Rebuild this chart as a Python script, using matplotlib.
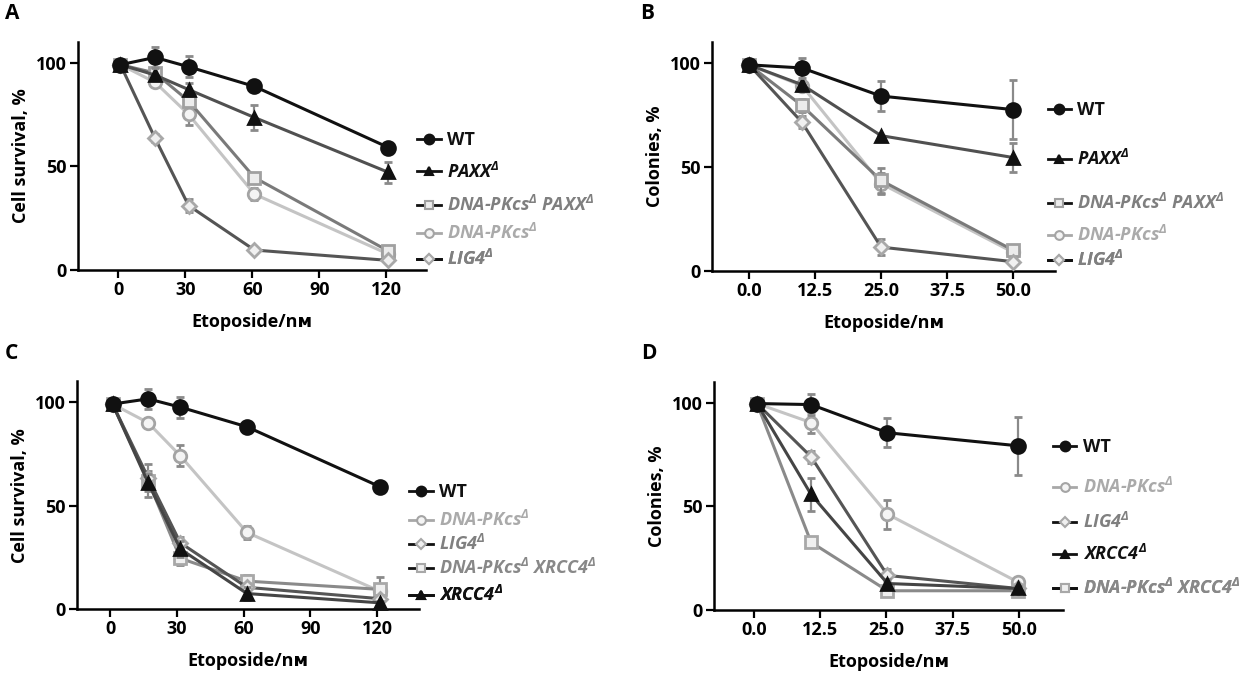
import matplotlib
matplotlib.use("Agg")
import matplotlib.pyplot as plt
from matplotlib.lines import Line2D

plt.rcParams['font.family'] = ['Open Sans', 'DejaVu Sans']
plt.rcParams['font.weight'] = 'bold'
plt.rcParams['mathtext.default'] = 'regular'

# ---- data ----
# panel A: cell survival, etoposide 0-120 nM
xA = [1, 16.5, 31.5, 61, 121]
A_wt = [99, 102.5, 98, 88.5, 59]
A_wt_err = [0, 5, 5, 2, 2]
A_paxx = [99, 94, 87, 73.5, 47]
A_paxx_err = [0, 0, 3, 6, 5]
A_dpp = [99, 95, 81.5, 44.5, 9]
A_dpp_err = [0, 3, 2, 2, 2]
A_dp = [99, 90.5, 75, 36.5, 7.5]
A_dp_err = [0, 2, 5, 3, 2]
A_lig4 = [99, 63.5, 31, 9.5, 4.5]
A_lig4_err = [0, 2, 3, 1, 1]

# panel B: colonies, etoposide 0-50 nM
xB = [0, 10, 25, 50]
B_wt = [99, 97.5, 84, 77.5]
B_wt_err = [0, 5, 7, 14]
B_paxx = [99, 89.5, 65, 54.5]
B_paxx_err = [0, 0, 0, 7]
B_dpp = [99, 79.5, 43.5, 10]
B_dpp_err = [0, 3, 6, 2]
B_dp = [99, 89, 42, 9]
B_dp_err = [0, 2, 5, 2]
B_lig4 = [99, 71.5, 11.5, 4.5]
B_lig4_err = [0, 3, 4, 1]

# panel C: cell survival
xC = [1, 17, 31.5, 61.5, 121.5]
C_wt = [99, 101.5, 97.5, 88, 59]
C_wt_err = [0, 5, 5, 2, 2]
C_dp = [99, 90, 74, 37, 8.5]
C_dp_err = [0, 2, 5, 3, 2]
C_lig4 = [99, 63.5, 32, 10.5, 5]
C_lig4_err = [0, 3, 3, 2, 1]
C_dpx = [99, 62, 24.5, 13.5, 9.5]
C_dpx_err = [0, 8, 3, 3, 6]
C_xrcc4 = [99, 61, 29, 7.5, 3]
C_xrcc4_err = [0, 4, 4, 3, 1]

# panel D: colonies
xD = [0.6, 10.8, 25.2, 49.8]
D_wt = [99.7, 99.2, 85.6, 79.3]
D_wt_err = [0, 5, 7, 14]
D_dp = [99.7, 90.5, 46.3, 13.5]
D_dp_err = [0, 5, 7, 2]
D_lig4 = [99.7, 74, 16.7, 10.4]
D_lig4_err = [0, 3, 3, 2]
D_xrcc4 = [99.7, 55.8, 12.8, 10.4]
D_xrcc4_err = [0, 8, 2, 1]
D_dpx = [99.7, 32.7, 9.3, 9.3]
D_dpx_err = [0, 2, 1, 1]

lab_wt = 'WT'
lab_paxx = r'PAXX$^{Δ}$'
lab_dpp = r'DNA-PKcs$^{Δ}$ PAXX$^{Δ}$'
lab_dp = r'DNA-PKcs$^{Δ}$'
lab_lig4 = r'LIG4$^{Δ}$'
lab_dpx = r'DNA-PKcs$^{Δ}$ XRCC4$^{Δ}$'
lab_xrcc4 = r'XRCC4$^{Δ}$'

# styles: line colour, marker, marker face, marker edge, marker size, text colour
styles = {
    'wt':    dict(color='#111111', marker='o', mfc='#111111', mec='#111111', ms=10, txt='#111111', italic=False),
    'paxx':  dict(color='#505050', marker='^', mfc='#111111', mec='#111111', ms=9, txt='#111111', italic=True),
    'dpp':   dict(color='#7a7a7a', marker='s', mfc='#ececec', mec='#a0a0a0', ms=9, txt='#7f7f7f', italic=True),
    'dp':    dict(color='#c4c4c4', marker='o', mfc='#f4f4f4', mec='#a4a4a4', ms=9, txt='#aaaaaa', italic=True),
    'lig4':  dict(color='#555555', marker='D', mfc='#f0f0f0', mec='#a8a8a8', ms=7, txt='#808080', italic=True),
    'dpx':   dict(color='#8a8a8a', marker='s', mfc='#f0f0f0', mec='#a8a8a8', ms=9, txt='#888888', italic=True),
    'xrcc4': dict(color='#454545', marker='^', mfc='#111111', mec='#111111', ms=9, txt='#111111', italic=True),
}

fig = plt.figure(figsize=(12.58, 6.76), dpi=100)


def series(ax, x, y, err, key, z):
    s = styles[key]
    ax.errorbar(x, y, yerr=err, color=s['color'], lw=2.2, marker=s['marker'],
                mfc=s['mfc'], mec=s['mec'], mew=2, ms=s['ms'],
                ecolor='#8a8a8a', elinewidth=1.6, capsize=3, capthick=1.6,
                zorder=z, clip_on=False)


def entry(ax, key, label, xa, ya):
    s = styles[key]
    h = Line2D([], [], color='#111111' if key != 'dp' else '#a8a8a8', lw=2,
               marker=s['marker'], mfc=s['mfc'] if key not in ('wt', 'paxx', 'xrcc4') else '#111111',
               mec=s['mec'], mew=1.5, ms=s['ms'] * 0.7)
    leg = ax.legend([h], [label], loc='center left', bbox_to_anchor=(xa, ya),
                    frameon=False, handlelength=1.3, handletextpad=0.35,
                    borderpad=0, borderaxespad=0,
                    prop=dict(size=13, weight='bold',
                              style='italic' if s['italic'] else 'normal'))
    leg.get_texts()[0].set_color(s['txt'])
    ax.add_artist(leg)


def style_axes(ax, xticks, xticklabels, xlim, ylabel, letter):
    ax.set_xlim(*xlim)
    ax.set_ylim(0, 110)
    ax.set_yticks([0, 50, 100])
    ax.set_xticks(xticks)
    ax.set_xticklabels(xticklabels)
    for sp in ['top', 'right']:
        ax.spines[sp].set_visible(False)
    ax.spines['left'].set_linewidth(1.8)
    ax.spines['bottom'].set_linewidth(1.8)
    ax.tick_params(length=6, width=1.6, pad=2, labelsize=13)
    for t in ax.get_xticklabels() + ax.get_yticklabels():
        t.set_fontweight('bold')
    ax.set_ylabel(ylabel, fontsize=13, fontweight='bold', labelpad=4)
    ax.set_xlabel('Etoposide/nᴍ', fontsize=13, fontweight='bold', labelpad=10)
    ax.text(-0.21, 1.17, letter, transform=ax.transAxes, fontsize=15,
            fontweight='bold', va='top', ha='left')


# ---- A ----
axA = fig.add_axes([0.062, 0.601, 0.277, 0.337])
series(axA, xA, A_dp, A_dp_err, 'dp', 3)
series(axA, xA, A_dpp, A_dpp_err, 'dpp', 4)
series(axA, xA, A_lig4, A_lig4_err, 'lig4', 5)
series(axA, xA, A_paxx, A_paxx_err, 'paxx', 6)
series(axA, xA, A_wt, A_wt_err, 'wt', 7)
style_axes(axA, [0, 30, 60, 90, 120], ['0', '30', '60', '90', '120'], (-18, 138),
           'Cell survival, %', 'A')
entry(axA, 'wt', lab_wt, 0.974, 0.570)
entry(axA, 'paxx', lab_paxx, 0.974, 0.430)
entry(axA, 'dpp', lab_dpp, 0.974, 0.285)
entry(axA, 'dp', lab_dp, 0.974, 0.162)
entry(axA, 'lig4', lab_lig4, 0.974, 0.048)

# ---- B ----
axB = fig.add_axes([0.566, 0.599, 0.273, 0.339])
series(axB, xB, B_dp, B_dp_err, 'dp', 3)
series(axB, xB, B_dpp, B_dpp_err, 'dpp', 4)
series(axB, xB, B_lig4, B_lig4_err, 'lig4', 5)
series(axB, xB, B_paxx, B_paxx_err, 'paxx', 6)
series(axB, xB, B_wt, B_wt_err, 'wt', 7)
style_axes(axB, [0, 12.5, 25, 37.5, 50], ['0.0', '12.5', '25.0', '37.5', '50.0'], (-7, 58),
           'Colonies, %', 'B')
entry(axB, 'wt', lab_wt, 0.977, 0.703)
entry(axB, 'paxx', lab_paxx, 0.977, 0.489)
entry(axB, 'dpp', lab_dpp, 0.977, 0.297)
entry(axB, 'dp', lab_dp, 0.977, 0.157)
entry(axB, 'lig4', lab_lig4, 0.977, 0.048)

# ---- C ----
axC = fig.add_axes([0.0612, 0.099, 0.272, 0.337])
series(axC, xC, C_dp, C_dp_err, 'dp', 3)
series(axC, xC, C_dpx, C_dpx_err, 'dpx', 4)
series(axC, xC, C_lig4, C_lig4_err, 'lig4', 5)
series(axC, xC, C_xrcc4, C_xrcc4_err, 'xrcc4', 6)
series(axC, xC, C_wt, C_wt_err, 'wt', 7)
style_axes(axC, [0, 30, 60, 90, 120], ['0', '30', '60', '90', '120'], (-15, 139),
           'Cell survival, %', 'C')
entry(axC, 'wt', lab_wt, 0.971, 0.513)
entry(axC, 'dp', lab_dp, 0.971, 0.390)
entry(axC, 'lig4', lab_lig4, 0.971, 0.285)
entry(axC, 'dpx', lab_dpx, 0.971, 0.180)
entry(axC, 'xrcc4', lab_xrcc4, 0.971, 0.061)

# ---- D ----
axD = fig.add_axes([0.5676, 0.0976, 0.2774, 0.337])
series(axD, xD, D_dp, D_dp_err, 'dp', 3)
series(axD, xD, D_dpx, D_dpx_err, 'dpx', 4)
series(axD, xD, D_lig4, D_lig4_err, 'lig4', 5)
series(axD, xD, D_xrcc4, D_xrcc4_err, 'xrcc4', 6)
series(axD, xD, D_wt, D_wt_err, 'wt', 7)
style_axes(axD, [0, 12.5, 25, 37.5, 50], ['0.0', '12.5', '25.0', '37.5', '50.0'], (-7.5, 58.3),
           'Colonies, %', 'D')
entry(axD, 'wt', lab_wt, 0.971, 0.715)
entry(axD, 'dp', lab_dp, 0.971, 0.539)
entry(axD, 'lig4', lab_lig4, 0.971, 0.386)
entry(axD, 'xrcc4', lab_xrcc4, 0.971, 0.246)
entry(axD, 'dpx', lab_dpx, 0.971, 0.096)

fig.savefig('out.png', dpi=100)
